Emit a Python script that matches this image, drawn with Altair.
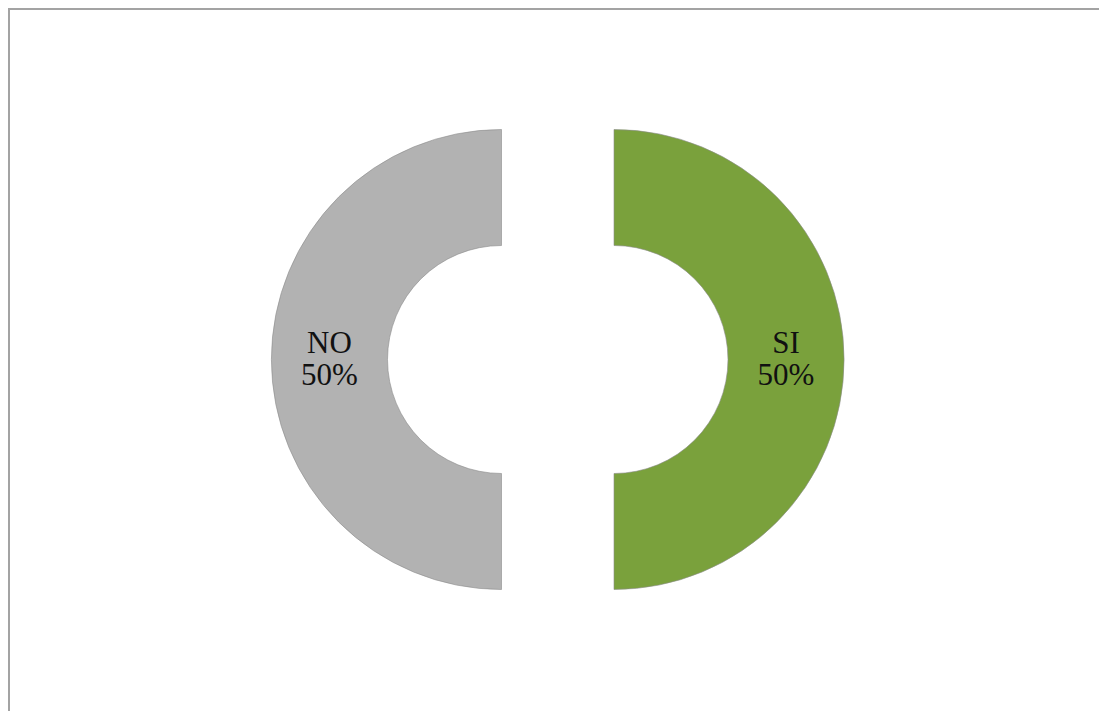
import altair as alt
import pandas as pd

categories = ["NO", "SI"]
values = [50, 50]

df = pd.DataFrame({"cat": categories, "value": values})

W, H = 1091, 703
CX_NO, CX_SI, CY = 493.5, 606, 351.5
TAU = 6.283185307179586

base = alt.Chart(df).transform_stack(
    stack="value", as_=["start", "end"], groupby=[],
    sort=[alt.SortField("cat", order="descending")]
).transform_calculate(
    mid="(datum.start + datum.end) / 2",
    label="datum.cat + '\\n' + datum.value + '%'"
)

xenc = alt.X("cat:N", axis=None,
             scale=alt.Scale(type="point", domain=categories, range=[CX_NO, CX_SI], padding=0))
theta_scale = alt.Scale(domain=[0, 100], range=[0, TAU])

arcs = base.mark_arc(innerRadius=114, outerRadius=230, stroke="#8c8c8c", strokeWidth=0.6).encode(
    x=xenc,
    y=alt.value(CY),
    theta=alt.Theta("start:Q", scale=theta_scale),
    theta2="end:Q",
    color=alt.Color("cat:N", legend=None,
                    scale=alt.Scale(domain=categories, range=["#b2b2b2", "#7aa13c"])),
)

labels = base.mark_text(radius=172, font="Liberation Serif", fontSize=31,
                        lineBreak="\n", lineHeight=32, color="#111111",
                        align="center", baseline="middle", dy=-16).encode(
    x=xenc,
    y=alt.value(CY),
    theta=alt.Theta("mid:Q", scale=theta_scale, stack=None),
    text="label:N",
)

left_border = base.mark_rule(color="#a3a3a3", strokeWidth=2).encode(
    x=alt.value(1), y=alt.value(0), y2=alt.value(H)
)
top_border = base.mark_rule(color="#a3a3a3", strokeWidth=2).encode(
    x=alt.value(0), x2=alt.value(W), y=alt.value(1)
)

chart = alt.layer(arcs, labels, left_border, top_border).properties(
    width=W, height=H, padding=0,
    autosize=alt.AutoSizeParams(type="none")
).configure_view(stroke=None)

chart.save("out.html", embed_options={"renderer": "svg", "actions": False})
